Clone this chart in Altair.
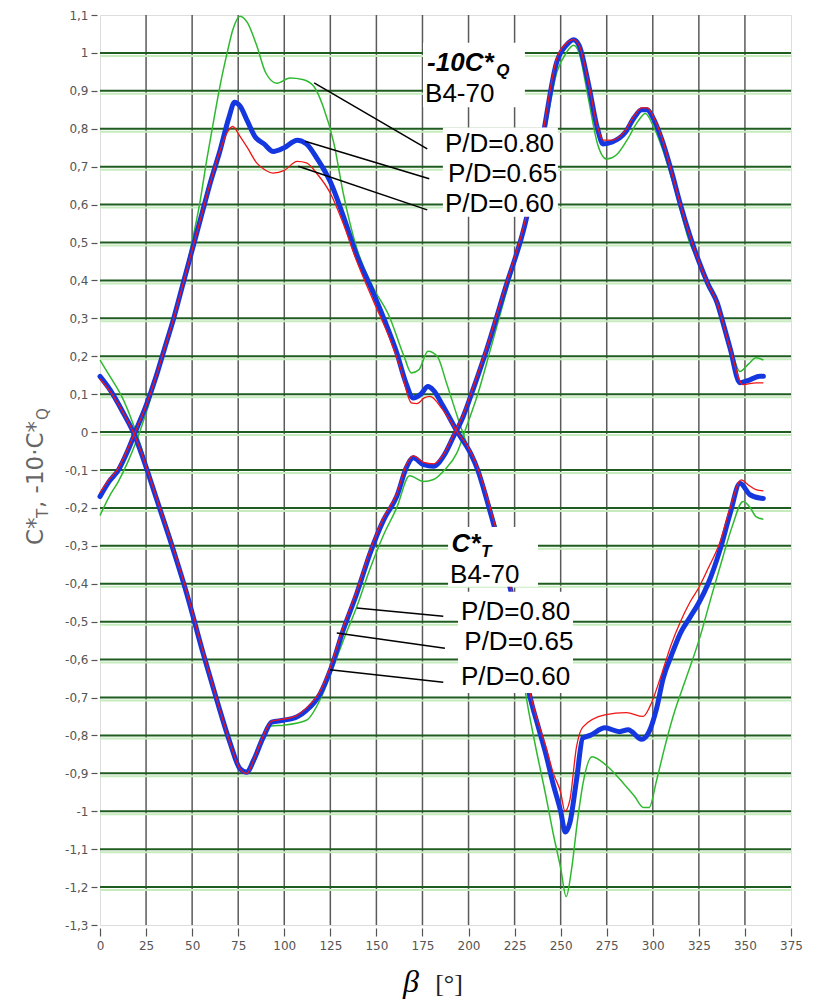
import altair as alt
import pandas as pd

# ---------------- data ----------------
# -10*C*Q , P/D = 0.80 (green)
q80_beta = [0, 5, 10, 15, 20, 25, 30, 35, 40, 45, 49, 54, 58, 62, 65, 69, 72, 76, 80, 85, 90, 96, 103, 110, 116,
            121, 127, 132, 139, 148, 157, 165, 169, 173, 178, 183, 188, 194, 199, 205, 210, 215, 220, 225, 231,
            236, 242, 246, 250, 253, 256, 259, 262, 267, 275, 284, 290, 295, 298, 302, 306, 311, 318, 325, 332,
            338, 343, 349, 353, 356, 360]
q80 = [-0.22, -0.17, -0.13, -0.08, -0.02, 0.05, 0.13, 0.21, 0.30, 0.39, 0.48, 0.60, 0.72, 0.83, 0.91, 1.00, 1.06,
       1.097, 1.08, 1.02, 0.947, 0.92, 0.934, 0.93, 0.912, 0.86, 0.76, 0.63, 0.49, 0.384, 0.305, 0.20, 0.156,
       0.164, 0.213, 0.20, 0.13, 0.04, -0.03, -0.10, -0.17, -0.25, -0.35, -0.47, -0.69, -0.82, -0.96, -1.06,
       -1.15, -1.225, -1.15, -1.03, -0.93, -0.856, -0.88, -0.926, -0.96, -0.99, -0.99, -0.92, -0.84, -0.75,
       -0.65, -0.55, -0.43, -0.33, -0.25, -0.183, -0.20, -0.223, -0.23]

# -10*C*Q , P/D = 0.65 (blue)
q65_beta = [0, 5, 10, 15, 20, 25, 30, 35, 40, 45, 50, 55, 60, 65, 70, 73, 76, 80, 84, 89, 94, 100, 107, 112, 118,
            125, 132, 139, 148, 154, 161, 166, 170, 174, 178, 181, 186, 194, 201, 205, 210, 214, 218, 223, 228,
            233, 238, 242, 246, 250, 252.5, 255, 258.6, 262, 266, 274, 282, 286.6, 294, 298, 302, 305.6, 310, 315,
            320, 325, 330, 336.5, 342, 347.3, 352.7, 358, 360]
q65 = [-0.17, -0.13, -0.10, -0.05, 0.01, 0.07, 0.14, 0.22, 0.30, 0.39, 0.48, 0.57, 0.66, 0.74, 0.83, 0.87, 0.86,
       0.82, 0.78, 0.76, 0.74, 0.75, 0.77, 0.76, 0.72, 0.66, 0.57, 0.47, 0.37, 0.30, 0.21, 0.13, 0.09, 0.10, 0.12,
       0.11, 0.07, 0.0, -0.055, -0.10, -0.18, -0.25, -0.32, -0.42, -0.55, -0.69, -0.78, -0.85, -0.93, -1.00,
       -1.055, -1.03, -0.917, -0.807, -0.80, -0.78, -0.79, -0.785, -0.81, -0.79, -0.73, -0.65, -0.59, -0.53,
       -0.49, -0.45, -0.40, -0.31, -0.214, -0.135, -0.165, -0.174, -0.175]

# -10*C*Q , P/D = 0.60 (red)
q60_beta = [0, 5, 10, 15, 20, 25, 30, 35, 40, 45, 50, 55, 60, 65, 69, 72, 76, 80, 85, 90, 94, 100, 107, 112, 118,
            125, 132, 139, 148, 157, 163, 169, 172, 176, 179, 186, 194, 201, 205, 210, 214, 218, 223, 228, 233,
            238, 242, 246, 250, 252.3, 255, 258.6, 262, 274, 285.7, 294.7, 298.4, 304, 310, 315, 320, 325, 330,
            336.5, 342, 348, 352, 356, 360]
q60 = [-0.16, -0.125, -0.095, -0.045, 0.01, 0.07, 0.14, 0.22, 0.30, 0.39, 0.48, 0.57, 0.66, 0.74, 0.79, 0.806,
       0.78, 0.75, 0.71, 0.69, 0.683, 0.69, 0.714, 0.71, 0.68, 0.63, 0.55, 0.455, 0.35, 0.25, 0.17, 0.077, 0.075,
       0.09, 0.094, 0.059, 0.0, -0.05, -0.095, -0.17, -0.24, -0.31, -0.41, -0.54, -0.68, -0.77, -0.83, -0.90,
       -0.95, -1.00, -0.97, -0.83, -0.778, -0.746, -0.74, -0.75, -0.724, -0.65, -0.56, -0.50, -0.45, -0.41,
       -0.36, -0.29, -0.20, -0.126, -0.14, -0.152, -0.155]

# C*T , P/D = 0.80 (green)
t80_beta = [0, 5, 12.7, 21.7, 30, 38, 47, 56, 63, 70, 76, 80, 84, 88, 93, 100, 112, 120, 125, 132, 139.4, 146.6,
            154, 161, 168, 175.6, 181, 187, 193.7, 199, 205, 212, 220, 230, 240, 248, 253, 257, 260, 265, 270,
            275, 280, 286, 292, 296, 300, 305, 312, 320, 327, 335, 342, 347.3, 352, 356, 360]
t80 = [0.19, 0.15, 0.085, -0.03, -0.16, -0.27, -0.42, -0.58, -0.70, -0.81, -0.89, -0.90, -0.87, -0.81, -0.775,
       -0.773, -0.76, -0.70, -0.64, -0.55, -0.46, -0.36, -0.27, -0.20, -0.115, -0.13, -0.125, -0.10, -0.055,
       0.016, 0.10, 0.22, 0.36, 0.53, 0.75, 0.95, 1.00, 1.02, 1.00, 0.88, 0.76, 0.72, 0.73, 0.77, 0.82, 0.84,
       0.81, 0.75, 0.64, 0.50, 0.43, 0.34, 0.23, 0.16, 0.18, 0.196, 0.19]

# C*T , P/D = 0.65 (blue)
t65_beta = [0, 5.4, 12.7, 18, 21.7, 30.8, 38, 47, 56, 63.4, 70.6, 76, 79.7, 83.3, 88.7, 93.2, 99.6, 107, 112,
            119.5, 125, 132, 139.4, 146.6, 154, 161, 166.6, 170, 175.6, 181, 186.5, 192, 197, 203, 210, 220,
            230.6, 240, 247.8, 253, 257, 260, 265, 270, 273, 278, 285, 290, 294, 297, 300, 305, 310, 315, 320,
            325, 330, 335, 338, 342, 347.3, 352.7, 358, 360]
t65 = [0.147, 0.112, 0.05, 0.0, -0.046, -0.178, -0.284, -0.425, -0.584, -0.707, -0.82, -0.888, -0.897, -0.866,
       -0.804, -0.765, -0.76, -0.751, -0.734, -0.69, -0.628, -0.522, -0.425, -0.319, -0.231, -0.17, -0.09,
       -0.068, -0.086, -0.09, -0.063, -0.01, 0.04, 0.12, 0.22, 0.38, 0.547, 0.77, 0.975, 1.02, 1.035, 1.02,
       0.92, 0.80, 0.76, 0.765, 0.79, 0.83, 0.85, 0.85, 0.83, 0.77, 0.69, 0.60, 0.52, 0.45, 0.39, 0.34, 0.29,
       0.22, 0.13, 0.138, 0.147, 0.147]

# C*T , P/D = 0.60 (red)
t60_beta = [0, 5.4, 12.7, 18, 21.7, 30.8, 38, 47, 56, 63.4, 70.6, 76, 79.7, 83.3, 88.7, 93.2, 99.6, 107, 112,
            119.5, 125, 132, 139.4, 146.6, 154, 161, 166.6, 170, 175.6, 181, 186.5, 192, 197, 203, 210, 220,
            230.6, 240, 247.8, 253, 257, 260, 265, 270, 273, 278, 285, 290, 294, 297, 300, 305, 310, 315, 320,
            325, 330, 335, 338, 342, 349, 356, 360]
t60 = [0.14, 0.108, 0.05, 0.0, -0.044, -0.175, -0.28, -0.42, -0.58, -0.705, -0.82, -0.888, -0.9, -0.866,
       -0.8, -0.762, -0.757, -0.747, -0.728, -0.683, -0.62, -0.515, -0.418, -0.312, -0.225, -0.163, -0.083,
       -0.063, -0.08, -0.084, -0.058, -0.005, 0.045, 0.125, 0.225, 0.385, 0.555, 0.78, 0.985, 1.025, 1.035,
       1.02, 0.925, 0.805, 0.77, 0.77, 0.795, 0.835, 0.855, 0.855, 0.835, 0.775, 0.69, 0.60, 0.52, 0.45, 0.39,
       0.34, 0.29, 0.22, 0.125, 0.13, 0.13]

x_ticks = [0, 25, 50, 75, 100, 125, 150, 175, 200, 225, 250, 275, 300, 325, 350, 375]
y_ticks = [-1.3, -1.2, -1.1, -1.0, -0.9, -0.8, -0.7, -0.6, -0.5, -0.4, -0.3, -0.2, -0.1,
           0.0, 0.1, 0.2, 0.3, 0.4, 0.5, 0.6, 0.7, 0.8, 0.9, 1.0, 1.1]
x_grid = [25, 50, 75, 100, 125, 150, 175, 200, 225, 250, 275, 300, 325, 350]
y_grid = [1.0, 0.9, 0.8, 0.7, 0.6, 0.5, 0.4, 0.3, 0.2, 0.1, 0.0, -0.1, -0.2, -0.3, -0.4, -0.5,
          -0.6, -0.7, -0.8, -0.9, -1.0, -1.1, -1.2]

# annotation texts (anchored in data coordinates)
plain_text = ["B4-70", "P/D=0.80", "P/D=0.65", "P/D=0.60", "B4-70", "P/D=0.80", "P/D=0.65", "P/D=0.60"]
plain_x = [176.4, 187.2, 188.9, 187.2, 190.0, 195.9, 197.7, 195.9]
plain_y = [0.871, 0.740, 0.660, 0.580, -0.398, -0.495, -0.574, -0.667]
bold_text = ["-10C*", "C*"]
bold_x = [177.5, 190.8]
bold_y = [0.951, -0.316]
sub_text = ["Q", "T"]
sub_x = [215.0, 206.8]
sub_y = [0.938, -0.329]

# white label boxes
box_x1 = [175.3, 186.1, 188.9, 194.3]
box_x2 = [230.6, 248.5, 237.7, 256.7]
box_y1 = [1.027, 0.803, -0.250, -0.421]
box_y2 = [0.857, 0.568, -0.408, -0.688]

# leader lines
lead_x1 = [116.2, 111.3, 107.6, 139.3, 128.5, 124.8]
lead_y1 = [0.921, 0.767, 0.701, -0.464, -0.530, -0.627]
lead_x2 = [177.6, 178.7, 177.6, 186.3, 187.2, 186.3]
lead_y2 = [0.747, 0.668, 0.586, -0.486, -0.570, -0.660]

# ---------------- build tables ----------------
def curve(name, bs, vs):
    return pd.DataFrame({"beta": bs, "val": vs, "curve": name})

green = pd.concat([curve("Q80", q80_beta, q80), curve("T80", t80_beta, t80)])
blue = pd.concat([curve("Q65", q65_beta, q65), curve("T65", t65_beta, t65)])
red = pd.concat([curve("Q60", q60_beta, q60), curve("T60", t60_beta, t60)])

xscale = alt.Scale(domain=[0, 375], nice=False, zero=False)
yscale = alt.Scale(domain=[-1.3, 1.1], nice=False, zero=False)

axis_common = dict(title=None, grid=False, domain=False, labelFont="DejaVu Sans", labelFontSize=12,
                   labelColor="#555555", tickColor="#555555", tickWidth=1.2, labelFlush=False,
                   labelOverlap=False)
x_axis = alt.Axis(values=x_ticks, tickSize=8, offset=3, labelPadding=4, **axis_common)
y_axis = alt.Axis(values=y_ticks, tickSize=6, offset=3, labelPadding=3,
                  labelExpr="replace(toString(round(datum.value*10)/10), '.', ',')", **axis_common)


def X(f):
    return alt.X(f, type="quantitative", scale=xscale, axis=x_axis)


def Y(f):
    return alt.Y(f, type="quantitative", scale=yscale, axis=y_axis)


vgrid = alt.Chart(pd.DataFrame({"g": x_grid})).mark_rule(color="#5a5a5a", strokeWidth=1.5).encode(x=X("g"))
hhalo = alt.Chart(pd.DataFrame({"g": y_grid})).mark_rule(color="#c6ebbd", strokeWidth=2, yOffset=3).encode(y=Y("g"))
hgrid = alt.Chart(pd.DataFrame({"g": y_grid})).mark_rule(color="#1f5c1f", strokeWidth=2).encode(y=Y("g"))

g_line = alt.Chart(green).mark_line(color="#2fb92f", strokeWidth=1.5, interpolate="monotone").encode(
    x=X("beta"), y=Y("val"), detail="curve:N")
b_line = alt.Chart(blue).mark_line(color="#1437e0", strokeWidth=5, strokeJoin="round", strokeCap="round",
                                   interpolate="monotone").encode(x=X("beta"), y=Y("val"), detail="curve:N")
r_line = alt.Chart(red).mark_line(color="#f01414", strokeWidth=1.3, interpolate="monotone").encode(
    x=X("beta"), y=Y("val"), detail="curve:N")

boxes = alt.Chart(pd.DataFrame({"x1": box_x1, "x2": box_x2, "y1": box_y1, "y2": box_y2})).mark_rect(
    color="white").encode(x=X("x1"), x2="x2", y=Y("y1"), y2="y2")

leads = alt.Chart(pd.DataFrame({"x1": lead_x1, "x2": lead_x2, "y1": lead_y1, "y2": lead_y2})).mark_rule(
    color="black", strokeWidth=1.5).encode(x=X("x1"), x2="x2", y=Y("y1"), y2="y2")

t_plain = alt.Chart(pd.DataFrame({"t": plain_text, "x": plain_x, "y": plain_y})).mark_text(
    font="Liberation Sans", fontSize=26, align="left", baseline="alphabetic", color="black").encode(
    x=X("x"), y=Y("y"), text="t:N")
t_bold = alt.Chart(pd.DataFrame({"t": bold_text, "x": bold_x, "y": bold_y})).mark_text(
    font="Liberation Sans", fontSize=26, fontWeight="bold", fontStyle="italic", align="left",
    baseline="alphabetic", color="black").encode(x=X("x"), y=Y("y"), text="t:N")
t_sub = alt.Chart(pd.DataFrame({"t": sub_text, "x": sub_x, "y": sub_y})).mark_text(
    font="Liberation Sans", fontSize=17, fontWeight="bold", fontStyle="italic", align="left",
    baseline="alphabetic", color="black").encode(x=X("x"), y=Y("y"), text="t:N")

# axis titles (pixel placement relative to plot area)
beta_t = alt.Chart(pd.DataFrame({"t": ["β"]})).mark_text(
    font="Liberation Serif", fontSize=32, fontStyle="italic", align="center", baseline="alphabetic",
    color="black").encode(x=alt.value(311), y=alt.value(977), text="t:N")
unit_t = alt.Chart(pd.DataFrame({"t": ["[°]"]})).mark_text(
    font="Liberation Serif", fontSize=26, align="center", baseline="alphabetic",
    color="#222222").encode(x=alt.value(349), y=alt.value(977), text="t:N")

yt_main = alt.Chart(pd.DataFrame({"t": ["C*", ", -10·C*"], "py": [530, 493]})).mark_text(
    font="DejaVu Sans", fontSize=23, angle=270, align="left", baseline="alphabetic",
    color="#666666").encode(x=alt.value(-57), y=alt.Y("py:Q", scale=None), text="t:N")
yt_sub = alt.Chart(pd.DataFrame({"t": ["T", "Q"], "py": [503, 405]})).mark_text(
    font="DejaVu Sans", fontSize=15, angle=270, align="left", baseline="alphabetic",
    color="#666666").encode(x=alt.value(-52), y=alt.Y("py:Q", scale=None), text="t:N")

chart = alt.layer(
    vgrid, hhalo, hgrid, g_line, b_line, r_line, boxes, leads, t_plain, t_bold, t_sub,
    beta_t, unit_t, yt_main, yt_sub
).properties(
    width=691, height=910,
    autosize=alt.AutoSizeParams(type="none"),
    padding={"left": 92, "top": 7, "right": 18, "bottom": 76},
).configure_view(stroke=None).configure(background="white")

chart.save("out.html", embed_options={"renderer": "svg", "actions": False})
